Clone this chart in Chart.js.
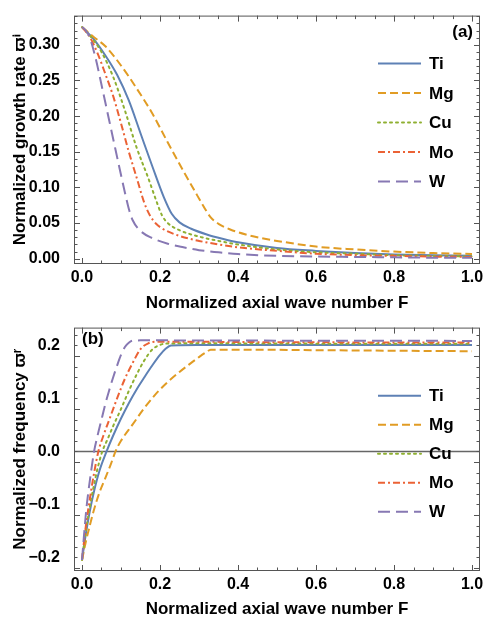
<!DOCTYPE html>
<html>
<head>
<meta charset="utf-8">
<script src="https://cdn.jsdelivr.net/npm/chart.js@4.4.1/dist/chart.umd.min.js"></script>
<style>
  html, body { margin: 0; padding: 0; background: #fff; }
  #wrap { position: relative; width: 483px; height: 617px; }
  canvas { position: absolute; left: 0; }
</style>
</head>
<body>
<div id="wrap">
  <canvas id="growth" width="483" height="312" style="top:0"></canvas>
  <canvas id="freq" width="483" height="305" style="top:312px"></canvas>
</div>
<script>
// metals, same order as the legend
const metals = ["Ti", "Mg", "Cu", "Mo", "W"];

// (a) normalized growth rate vs F
const tiGrowthF = [0, 0.03, 0.06, 0.09, 0.12, 0.15, 0.18, 0.21, 0.23, 0.25, 0.28, 0.32, 0.36, 0.4, 0.5, 0.6, 0.7, 0.8, 0.9, 1.0];
const tiGrowth  = [0.325, 0.308, 0.285, 0.258, 0.222, 0.176, 0.130, 0.086, 0.063, 0.051, 0.042, 0.034, 0.028, 0.023, 0.015, 0.011, 0.008, 0.006, 0.005, 0.004];
const mgGrowthF = [0, 0.03, 0.06, 0.1, 0.14, 0.18, 0.22, 0.26, 0.29, 0.31, 0.33, 0.35, 0.38, 0.42, 0.46, 0.5, 0.6, 0.7, 0.8, 0.9, 1.0];
const mgGrowth  = [0.325, 0.311, 0.298, 0.271, 0.239, 0.204, 0.163, 0.123, 0.094, 0.075, 0.058, 0.049, 0.041, 0.034, 0.029, 0.025, 0.017, 0.013, 0.010, 0.008, 0.0066];
const cuGrowthF = [0, 0.02, 0.05, 0.08, 0.11, 0.14, 0.17, 0.19, 0.205, 0.22, 0.25, 0.3, 0.35, 0.4, 0.5, 0.6, 0.7, 0.8, 0.9, 1.0];
const cuGrowth  = [0.325, 0.313, 0.290, 0.255, 0.208, 0.156, 0.113, 0.082, 0.061, 0.050, 0.040, 0.031, 0.025, 0.020, 0.013, 0.009, 0.007, 0.005, 0.004, 0.003];
const moGrowthF = [0, 0.02, 0.04, 0.06, 0.08, 0.1, 0.12, 0.14, 0.16, 0.175, 0.19, 0.21, 0.25, 0.3, 0.35, 0.4, 0.5, 0.6, 0.7, 0.8, 0.9, 1.0];
const moGrowth  = [0.325, 0.311, 0.288, 0.259, 0.228, 0.190, 0.150, 0.114, 0.078, 0.060, 0.049, 0.041, 0.032, 0.025, 0.020, 0.016, 0.011, 0.007, 0.005, 0.004, 0.003, 0.0025];
const wGrowthF  = [0, 0.01, 0.02, 0.035, 0.05, 0.065, 0.08, 0.095, 0.11, 0.12, 0.13, 0.15, 0.18, 0.22, 0.26, 0.3, 0.35, 0.4, 0.5, 0.6, 0.7, 0.8, 0.9, 1.0];
const wGrowth   = [0.325, 0.320, 0.310, 0.281, 0.244, 0.206, 0.168, 0.130, 0.093, 0.070, 0.054, 0.039, 0.029, 0.021, 0.016, 0.012, 0.009, 0.0065, 0.004, 0.003, 0.0025, 0.002, 0.0015, 0.0015];

// (b) normalized frequency vs F
const tiFreqF = [0, 0.01, 0.02, 0.03, 0.045, 0.063, 0.08, 0.1, 0.12, 0.14, 0.16, 0.18, 0.2, 0.215, 0.228, 0.25, 0.4, 0.6, 0.8, 1.0];
const tiFreq  = [-0.205, -0.155, -0.113, -0.078, -0.036, 0, 0.030, 0.062, 0.091, 0.117, 0.140, 0.162, 0.182, 0.194, 0.200, 0.2005, 0.201, 0.201, 0.201, 0.201];
const mgFreqF = [0, 0.01, 0.02, 0.03, 0.045, 0.06, 0.075, 0.086, 0.1, 0.13, 0.16, 0.19, 0.22, 0.25, 0.28, 0.3, 0.32, 0.33, 0.4, 0.6, 0.8, 1.0];
const mgFreq  = [-0.205, -0.170, -0.140, -0.112, -0.077, -0.050, -0.022, 0, 0.020, 0.051, 0.082, 0.109, 0.131, 0.150, 0.167, 0.178, 0.188, 0.192, 0.192, 0.191, 0.190, 0.189];
const cuFreqF = [0, 0.01, 0.02, 0.03, 0.04, 0.052, 0.065, 0.08, 0.1, 0.12, 0.14, 0.16, 0.18, 0.2, 0.22, 0.3, 0.5, 1.0];
const cuFreq  = [-0.205, -0.150, -0.105, -0.066, -0.032, 0, 0.022, 0.048, 0.080, 0.114, 0.145, 0.172, 0.192, 0.201, 0.2035, 0.204, 0.2035, 0.203];
const moFreqF = [0, 0.01, 0.02, 0.03, 0.042, 0.055, 0.07, 0.09, 0.11, 0.13, 0.15, 0.17, 0.19, 0.25, 0.5, 1.0];
const moFreq  = [-0.205, -0.140, -0.090, -0.045, 0, 0.030, 0.060, 0.100, 0.137, 0.167, 0.193, 0.204, 0.207, 0.207, 0.206, 0.2055];
const wFreqF  = [0, 0.005, 0.011, 0.016, 0.022, 0.031, 0.04, 0.05, 0.06, 0.07, 0.08, 0.09, 0.1, 0.11, 0.12, 0.13, 0.15, 0.2, 0.5, 1.0];
const wFreq   = [-0.205, -0.160, -0.110, -0.078, -0.045, 0, 0.030, 0.060, 0.090, 0.116, 0.140, 0.162, 0.182, 0.197, 0.205, 0.209, 0.2095, 0.2095, 0.209, 0.2085];

// tick labels
const xTicks = [0, 0.2, 0.4, 0.6, 0.8, 1.0];
const growthTicks = [0, 0.05, 0.10, 0.15, 0.20, 0.25, 0.30];
const freqTicks = [-0.2, -0.1, 0, 0.1, 0.2];

const colors = ["#5E81B5", "#E19C24", "#8FB032", "#EB6235", "#8778B3"];
const dashes = [[], [8, 4], [2, 4], [7, 3, 2, 3], [12, 6]];
const caps = ["butt", "butt", "round", "butt", "butt"];

const boldFont = size => ({ family: "'Liberation Sans', Arial, sans-serif", size: size, weight: "bold" });

function makeSets(fs, vs) {
  return metals.map((m, i) => ({
    label: m,
    data: fs[i].map((f, k) => ({ x: f, y: vs[i][k] })),
    borderColor: colors[i],
    borderWidth: 2,
    borderDash: dashes[i],
    borderCapStyle: caps[i],
    pointRadius: 0,
    fill: false,
    cubicInterpolationMode: "monotone",
    order: metals.length - i
  }));
}

// Mathematica-like frame with inside ticks on all four sides
const frameTicks = {
  id: "frameTicks",
  beforeDatasetsDraw(chart, args, o) {
    if (!o.zeroLine) return;
    const { ctx, chartArea: a, scales: { y } } = chart;
    const py = Math.round(y.getPixelForValue(0)) + 0.5;
    ctx.save();
    ctx.strokeStyle = "#666";
    ctx.lineWidth = 1.6;
    ctx.beginPath();
    ctx.moveTo(a.left, py);
    ctx.lineTo(a.right, py);
    ctx.stroke();
    ctx.restore();
  },
  afterDraw(chart, args, o) {
    const { ctx, chartArea: a, scales: { x, y } } = chart;
    ctx.save();
    ctx.strokeStyle = "#555";
    ctx.lineWidth = 1;
    ctx.strokeRect(a.left + 0.5, a.top + 0.5, a.right - a.left - 1, a.bottom - a.top - 1);
    ctx.beginPath();
    const n = Math.round((o.xMax - o.xMin) / o.xMinor);
    for (let k = 0; k <= n; k++) {
      const v = o.xMin + k * o.xMinor;
      const len = k % o.xEvery === 0 ? 6 : 3.5;
      const px = Math.round(x.getPixelForValue(v)) + 0.5;
      ctx.moveTo(px, a.bottom); ctx.lineTo(px, a.bottom - len);
      ctx.moveTo(px, a.top); ctx.lineTo(px, a.top + len);
    }
    const m = Math.round((o.yMax - o.yMin) / o.yMinor);
    for (let k = 0; k <= m; k++) {
      const v = o.yMin + k * o.yMinor;
      const len = k % o.yEvery === 0 ? 6 : 3.5;
      const py = Math.round(y.getPixelForValue(v)) + 0.5;
      ctx.moveTo(a.left, py); ctx.lineTo(a.left + len, py);
      ctx.moveTo(a.right, py); ctx.lineTo(a.right - len, py);
    }
    ctx.stroke();
    ctx.restore();
  }
};

// legend and panel label drawn inside the frame
const innerLegend = {
  id: "innerLegend",
  afterDatasetsDraw(chart, args, o) {
    const { ctx } = chart;
    ctx.save();
    chart.data.datasets.forEach((ds, i) => {
      const yy = o.top + i * o.step;
      ctx.strokeStyle = ds.borderColor;
      ctx.lineWidth = 2;
      ctx.lineCap = ds.borderCapStyle;
      ctx.setLineDash(ds.borderDash);
      ctx.beginPath();
      ctx.moveTo(o.x0, yy);
      ctx.lineTo(o.x1, yy);
      ctx.stroke();
      ctx.setLineDash([]);
      ctx.fillStyle = "#000";
      ctx.font = "bold 17px 'Liberation Sans', Arial, sans-serif";
      ctx.textAlign = "left";
      ctx.textBaseline = "middle";
      ctx.fillText(ds.label, o.textX, yy + 1);
    });
    ctx.font = "bold 17px 'Liberation Sans', Arial, sans-serif";
    ctx.textAlign = o.panelAlign;
    ctx.textBaseline = "middle";
    ctx.fillText(o.panel, o.panelX, o.panelY);
    ctx.restore();
  }
};

function makeChart(id, sets, yMin, yMax, yTicks, yDigits, yTitle, cfg) {
  return new Chart(document.getElementById(id), {
    type: "line",
    data: { datasets: sets },
    options: {
      responsive: false,
      animation: false,
      devicePixelRatio: 1,
      layout: { padding: { top: cfg.padTop, right: 3, left: 0, bottom: 0 } },
      plugins: {
        legend: { display: false },
        tooltip: { enabled: false },
        frameTicks: cfg.frame,
        innerLegend: cfg.legend
      },
      scales: {
        x: {
          type: "linear",
          min: -0.0205,
          max: 1.0205,
          afterBuildTicks: s => { s.ticks = xTicks.map(v => ({ value: v })); },
          afterFit: s => { s.height = cfg.xHeight; },
          grid: { display: false },
          border: { display: false },
          ticks: {
            autoSkip: false, maxRotation: 0, padding: cfg.xTickPad, color: "#000",
            font: boldFont(16),
            callback: v => v.toFixed(1)
          },
          title: {
            display: true, text: "Normalized axial wave number F", color: "#000",
            font: boldFont(17), padding: { top: 0, bottom: cfg.xTitlePad }
          }
        },
        y: {
          type: "linear",
          min: yMin,
          max: yMax,
          afterBuildTicks: s => { s.ticks = yTicks.map(v => ({ value: v })); },
          afterFit: s => { s.width = 74; },
          grid: { display: false },
          border: { display: false },
          ticks: {
            padding: 6, color: "#000",
            font: boldFont(16),
            callback: v => (v < 0 ? "\u2212" + Math.abs(v).toFixed(yDigits) : v.toFixed(yDigits))
          },
          title: {
            display: true, text: yTitle, color: "#000",
            font: boldFont(17), padding: { top: 10, bottom: 0 }
          }
        }
      }
    },
    plugins: [frameTicks, innerLegend]
  });
}

makeChart("growth",
  makeSets([tiGrowthF, mgGrowthF, cuGrowthF, moGrowthF, wGrowthF], [tiGrowth, mgGrowth, cuGrowth, moGrowth, wGrowth]),
  -0.0074, 0.341, growthTicks, 2, "Normalized growth rate \u03D6\u2071",
  {
    padTop: 14, xHeight: 48, xTitlePad: -2, xTickPad: -4,
    frame: { xMin: 0, xMax: 1, xMinor: 0.05, xEvery: 4, yMin: 0, yMax: 0.34, yMinor: 0.01, yEvery: 5, zeroLine: false },
    legend: { x0: 378, x1: 421, textX: 429, top: 63.5, step: 29.5, panel: "(a)", panelX: 473, panelY: 32, panelAlign: "right" }
  });

makeChart("freq",
  makeSets([tiFreqF, mgFreqF, cuFreqF, moFreqF, wFreqF], [tiFreq, mgFreq, cuFreq, moFreq, wFreq]),
  -0.2257, 0.2336, freqTicks, 1, "Normalized frequency \u03D6\u02B3",
  {
    padTop: 8, xHeight: 46, xTitlePad: -3, xTickPad: -4,
    frame: { xMin: 0, xMax: 1, xMinor: 0.05, xEvery: 4, yMin: -0.22, yMax: 0.22, yMinor: 0.02, yEvery: 5, zeroLine: true },
    legend: { x0: 378, x1: 421, textX: 429, top: 83.7, step: 29, panel: "(b)", panelX: 82, panelY: 27, panelAlign: "left" }
  });
</script>
</body>
</html>
